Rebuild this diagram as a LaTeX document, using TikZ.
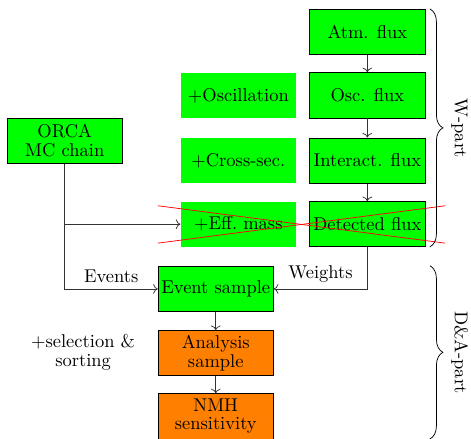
\documentclass[tikz,border=0pt]{standalone}
\usetikzlibrary{arrows.meta,positioning,calc,decorations.pathreplacing}
\usepackage{xcolor}

\begin{document}
\begin{tikzpicture}[>=To,
    simbox/.style={draw=black, fill=green, minimum width=2.19cm, minimum height=0.86cm, align=center, inner sep=1pt},
    stepbox/.style={fill=green, minimum width=2.19cm, minimum height=0.86cm, align=center, inner sep=1pt},
    anabox/.style={draw=black, fill=orange, minimum width=2.19cm, minimum height=0.86cm, align=center, inner sep=1pt},
    flow/.style={->, black!80},
    partbrace/.style={decorate, decoration={brace, amplitude=7pt}}]
  \useasboundingbox (0,0) rectangle (8.95,8.34);
  %% W chain (right column)
  \node[simbox] (atm) at (6.98,7.74) {Atm. flux};
  \node[simbox] (osc) at (6.98,6.53) {Osc. flux};
  \node[simbox] (int) at (6.98,5.29) {Interact. flux};
  \node[simbox] (det) at (6.98,4.08) {Detected flux};
  %% ingredients (middle column)
  \node[stepbox] (oscil) at (4.53,6.53) {+Oscillation};
  \node[stepbox] (xsec)  at (4.53,5.29) {+Cross-sec.};
  \node[stepbox] (eff)   at (4.53,4.08) {+Eff.\ mass};
  %% MC and analysis
  \node[simbox] (orca) at (1.23,5.67) {ORCA\\[-2pt]MC chain};
  \node[simbox] (ev)   at (4.10,2.85) {Event sample};
  \node[anabox] (ana)  at (4.10,1.63) {Analysis\\[-2pt]sample};
  \node[anabox] (nmh)  at (4.10,0.43) {NMH\\[-2pt]sensitivity};
  \node[align=center] (sel) at (1.58,1.65) {+selection \&\\[-2pt]sorting};

  %% Arrows
  \draw[flow] (atm) -- (osc);
  \draw[flow] (osc) -- (int);
  \draw[flow] (int) -- (det);
  \draw[flow] (orca.south) |- (eff.west);
  \draw[flow] (orca.south) |- node[above,pos=0.75,text=black] {Events} (ev.west);
  \draw[flow] (det.south) |- node[above,pos=0.75,text=black] {Weights} (ev.east);
  \draw[flow] (ev) -- (ana);
  \draw[flow] (ana) -- (nmh);

  %% Crossed out
  \draw[red] (3.0,4.43) -- (8.46,3.72);
  \draw[red] (3.0,3.72) -- (8.46,4.43);

  %% Braces
  \draw[partbrace] (8.17,8.17) -- (8.17,3.65)
    node[midway,right=8pt,rotate=-90,anchor=south] {W-part};
  \draw[partbrace] (8.17,3.29) -- (8.17,0.0)
    node[midway,right=8pt,rotate=-90,anchor=south] {D\&A-part};
\end{tikzpicture}
\end{document}
